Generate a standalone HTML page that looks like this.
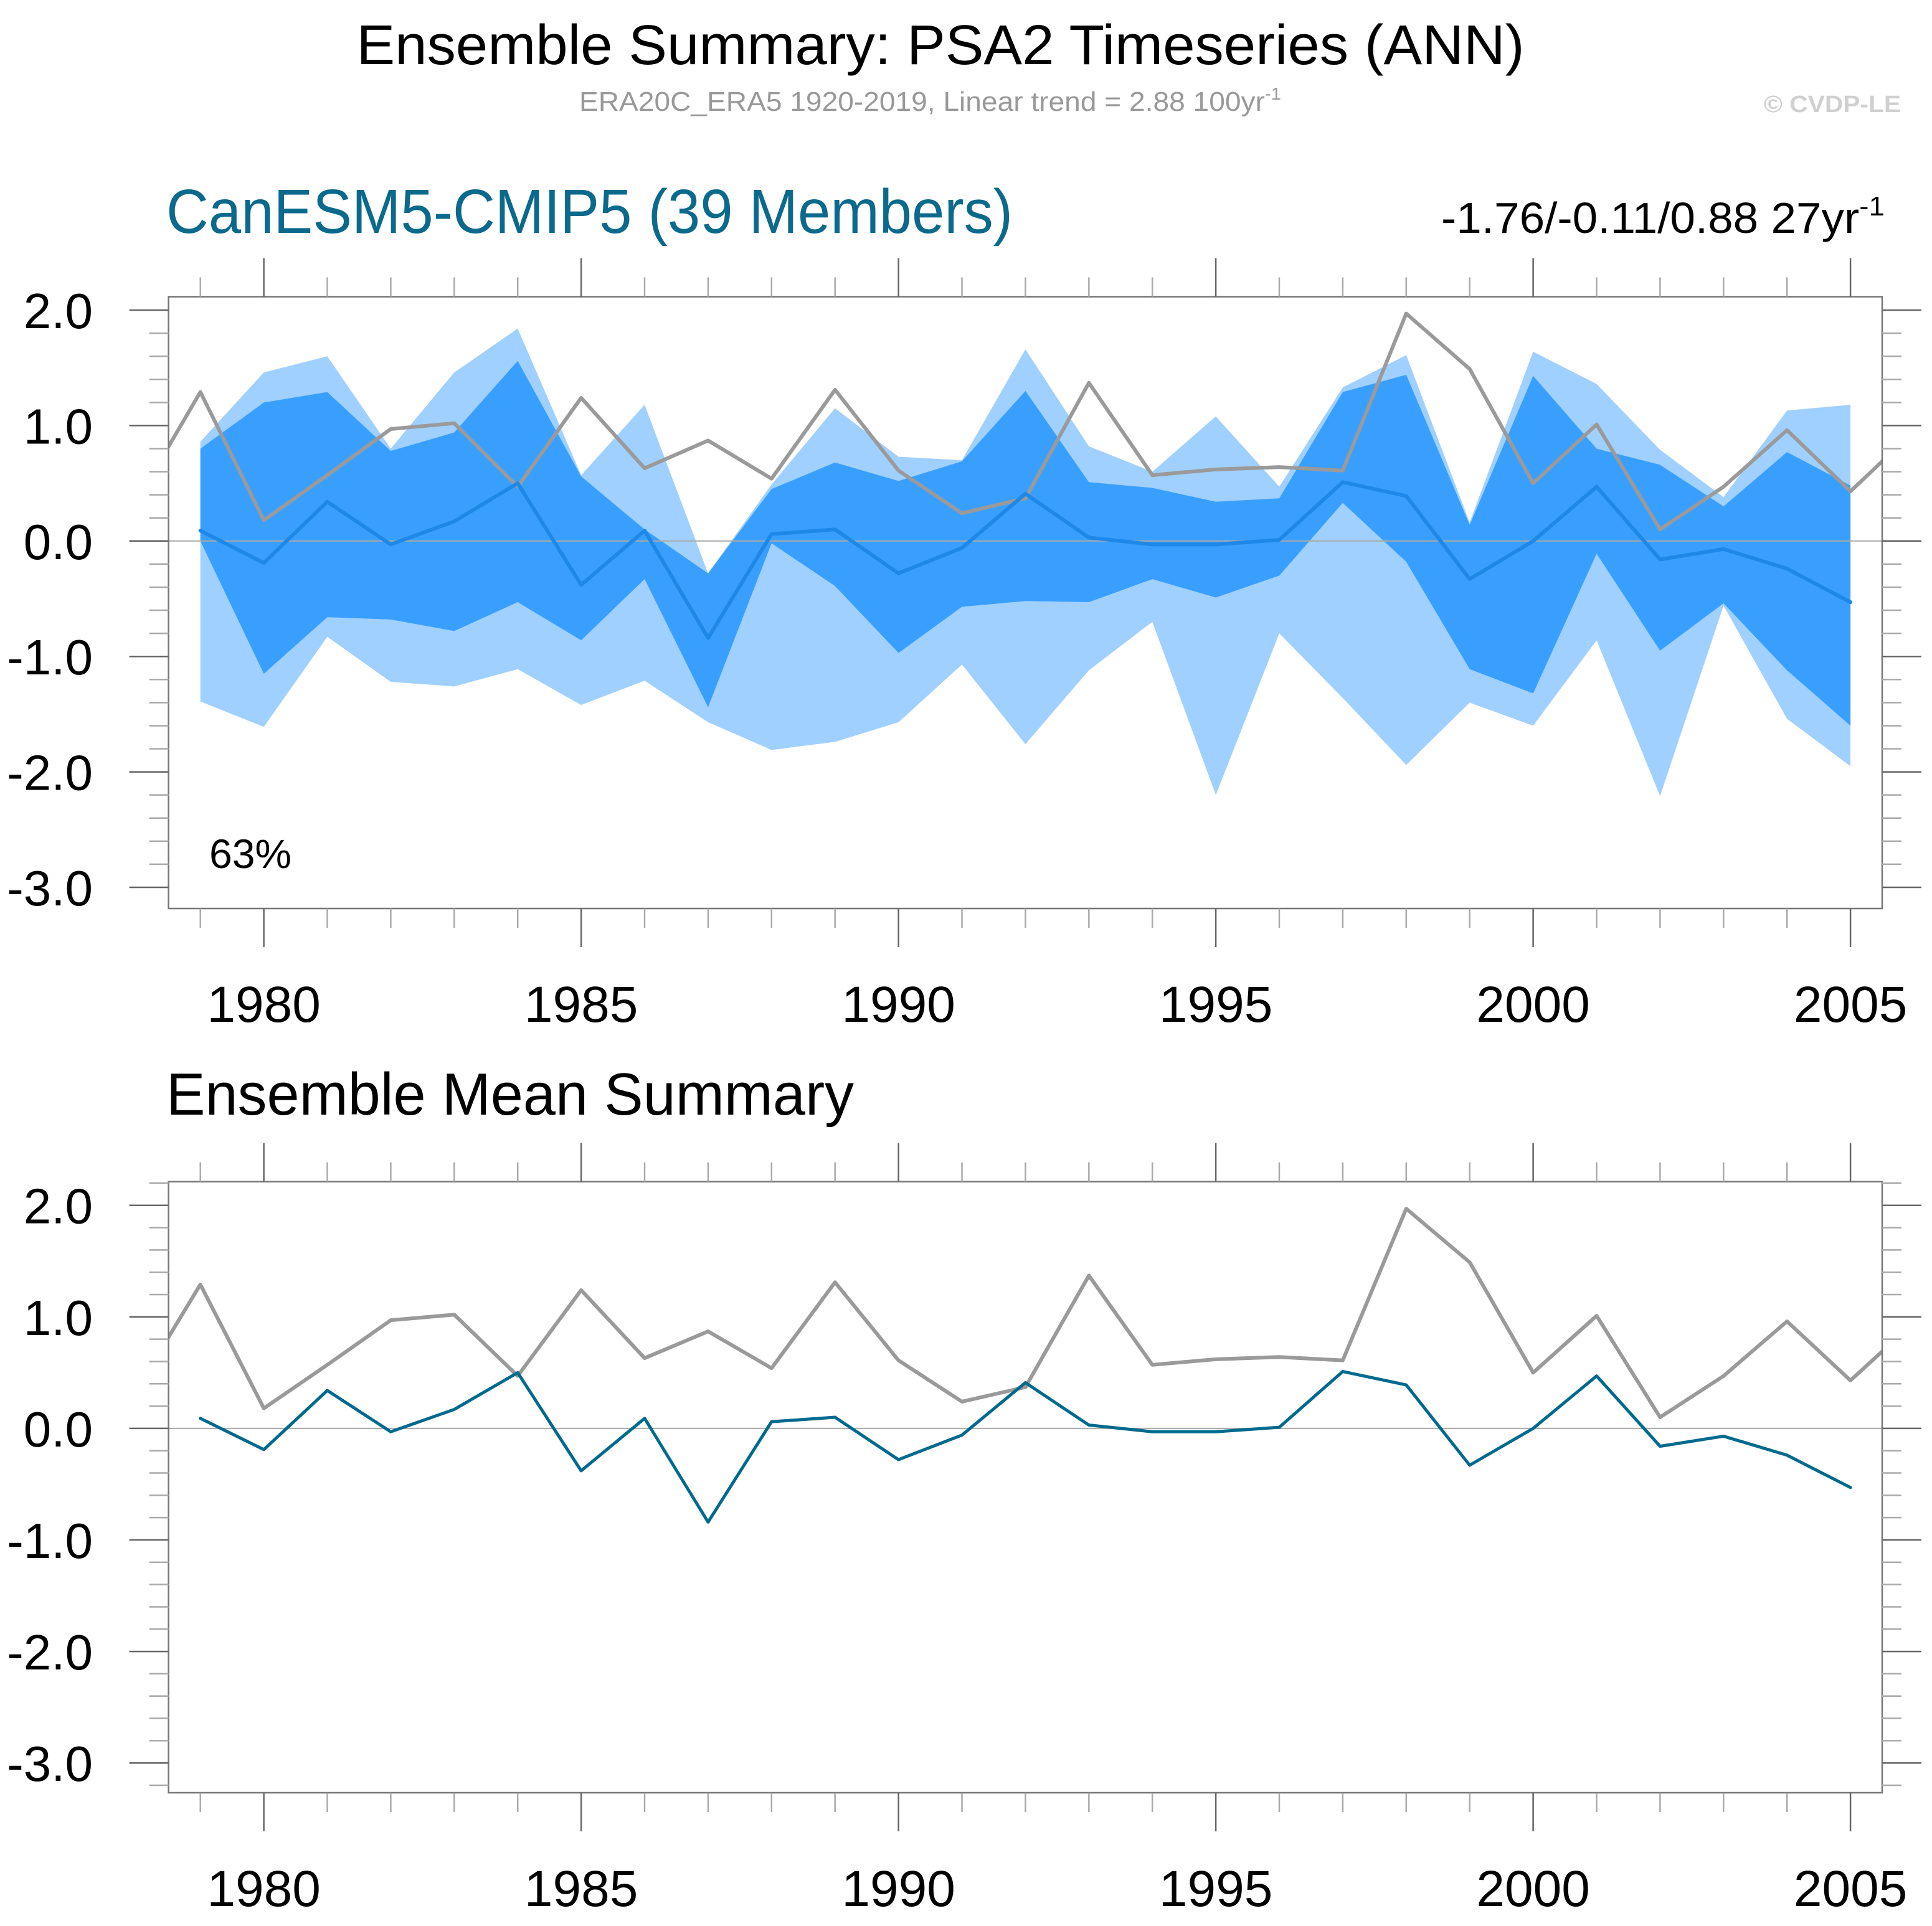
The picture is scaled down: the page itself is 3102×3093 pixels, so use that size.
<!DOCTYPE html>
<html><head><meta charset="utf-8"><style>
html,body{margin:0;padding:0;background:#fff;}
svg{display:block;font-family:"Liberation Sans",Arial,sans-serif;}
</style></head><body>
<svg id="chart" width="3102" height="3093" viewBox="0 0 3102 3093" xmlns="http://www.w3.org/2000/svg">
<rect width="3102" height="3093" fill="#fff"/>
<text x="1510" y="103" font-size="90" text-anchor="middle" textLength="1875" lengthAdjust="spacingAndGlyphs">Ensemble Summary: PSA2 Timeseries (ANN)</text>
<text x="930" y="178" font-size="44" fill="#999" textLength="1127" lengthAdjust="spacingAndGlyphs">ERA20C_ERA5 1920-2019, Linear trend = 2.88 100yr<tspan dy="-18" font-size="28">-1</tspan></text>
<text x="2832" y="180" font-size="38" font-weight="bold" fill="#d0d0d0" textLength="220" lengthAdjust="spacingAndGlyphs">© CVDP-LE</text>
<text x="267" y="374" font-size="100" fill="#0b6a8c" textLength="1359" lengthAdjust="spacingAndGlyphs">CanESM5-CMIP5 (39 Members)</text>
<text x="2314" y="374" font-size="70" textLength="712" lengthAdjust="spacingAndGlyphs">-1.76/-0.11/0.88 27yr<tspan dy="-28" font-size="44">-1</tspan></text>
<text x="267" y="1790" font-size="96" textLength="1104" lengthAdjust="spacingAndGlyphs">Ensemble Mean Summary</text>
<g id="top"></g>
<g id="bot"></g>
</svg>
<script>
const years=[1979,1980,1981,1982,1983,1984,1985,1986,1987,1988,1989,1990,1991,1992,1993,1994,1995,1996,1997,1998,1999,2000,2001,2002,2003,2004,2005];
const ensMean=[0.09,-0.19,0.34,-0.03,0.17,0.50,-0.38,0.09,-0.84,0.06,0.10,-0.28,-0.06,0.41,0.03,-0.03,-0.03,0.01,0.51,0.39,-0.33,0.0,0.47,-0.16,-0.07,-0.24,-0.53];
const envMax=[0.86,1.46,1.60,0.80,1.46,1.84,0.57,1.18,-0.28,0.49,1.15,0.73,0.70,1.66,0.82,0.60,1.08,0.47,1.33,1.61,0.16,1.64,1.36,0.79,0.38,1.13,1.18];
const envHi=[0.80,1.20,1.29,0.78,0.94,1.56,0.56,0.10,-0.28,0.45,0.68,0.52,0.69,1.30,0.51,0.46,0.34,0.37,1.29,1.44,0.14,1.43,0.80,0.66,0.30,0.77,0.48];
const envLo=[0.0,-1.15,-0.66,-0.68,-0.78,-0.53,-0.86,-0.33,-1.44,-0.02,-0.39,-0.97,-0.57,-0.52,-0.53,-0.33,-0.49,-0.30,0.33,-0.18,-1.11,-1.32,-0.11,-0.95,-0.54,-1.12,-1.60];
const envMin=[-1.39,-1.61,-0.83,-1.22,-1.26,-1.11,-1.42,-1.21,-1.57,-1.81,-1.74,-1.57,-1.07,-1.76,-1.12,-0.70,-2.20,-0.80,-1.36,-1.94,-1.40,-1.60,-0.86,-2.21,-0.56,-1.54,-1.95];
const obsYears=[1978,1979,1980,1981,1982,1983,1984,1985,1986,1987,1988,1989,1990,1991,1992,1993,1994,1995,1996,1997,1998,1999,2000,2001,2002,2003,2004,2005,2006];
const obs=[0.35,1.29,0.18,0.57,0.97,1.02,0.47,1.24,0.63,0.87,0.54,1.31,0.61,0.24,0.37,1.37,0.57,0.62,0.64,0.61,1.97,1.49,0.50,1.01,0.10,0.47,0.96,0.43,0.95];
const yTicks=[2,1,0,-1,-2,-3];
const yTickLabels=["2.0","1.0","0.0","-1.0","-2.0","-3.0"];
const xTicks=[1980,1985,1990,1995,2000,2005];
const pct="63%";

const NS="http://www.w3.org/2000/svg";
function mk(tag,attrs,parent){const e=document.createElementNS(NS,tag);for(const k in attrs)e.setAttribute(k,attrs[k]);parent.appendChild(e);return e;}
const X=yr=>423.6+(yr-1980)*101.9;
const L=270.6,R=3022;

function panel(g,top,bot,y0,k,prefix,withEnv){
  const Y=v=>y0-k*v;
  const cid=prefix+"-clip";
  const defs=mk('defs',{},g);
  const cp=mk('clipPath',{id:cid},defs);
  mk('rect',{x:L,y:top,width:R-L,height:bot-top},cp);
  const plot=mk('g',{'clip-path':'url(#'+cid+')'},g);
  
  
  if(withEnv){
    const band=(hi,lo,fill,name)=>{
      let d=years.map((y,i)=>(i?'L':'M')+X(y)+','+Y(hi[i])).join('');
      for(let i=years.length-1;i>=0;i--)d+='L'+X(years[i])+','+Y(lo[i]);
      const p=mk('path',{d:d+'Z',fill:fill},plot);
      
      
    };
    band(envMax,envMin,'#a0d0ff','envelope-min-max');
    band(envHi,envLo,'#399fff','envelope-inner');
  }
  const z=mk('line',{x1:L,x2:R,y1:Y(0),y2:Y(0),stroke:'#aaa','stroke-width':2},plot);
  
  
  const ol=mk('polyline',{points:obsYears.map((y,i)=>X(y)+','+Y(obs[i])).join(' '),fill:'none',stroke:'#9a9a9a','stroke-width':6,'stroke-linejoin':'round'},plot);
  
  
  const ml=mk('polyline',{points:years.map((y,i)=>X(y)+','+Y(ensMean[i])).join(' '),fill:'none',stroke:withEnv?'#1e88e8':'#006a8e','stroke-width':withEnv?6:5,'stroke-linejoin':'round','stroke-linecap':'round'},plot);
  
  
  const box=mk('rect',{x:L,y:top,width:R-L,height:bot-top,fill:'none',stroke:'#777','stroke-width':2.5},g);
  
  
  // y ticks
  for(let v=-3.4;v<=2.41;v+=0.2){
    const vv=Math.round(v*10)/10;const y=Y(vv);
    if(y<top-1||y>bot+1)continue;
    const major=Math.abs(vv-Math.round(vv))<1e-6;
    const len=major?63:31;
    mk('line',{x1:L-len,x2:L,y1:y,y2:y,stroke:major?'#666':'#aaa','stroke-width':2.5},g);
    mk('line',{x1:R,x2:R+len,y1:y,y2:y,stroke:major?'#666':'#aaa','stroke-width':2.5},g);
  }
  yTicks.forEach((v,i)=>{
    const t=mk('text',{x:149,y:Y(v)+29,'font-size':80,'text-anchor':'end'},g);
    t.textContent=yTickLabels[i];
    
    
  });
  // x ticks
  for(let yr=1979;yr<=2005;yr++){
    const major=yr%5===0;const len=major?62:31;const x=X(yr);
    mk('line',{x1:x,x2:x,y1:top-len,y2:top,stroke:major?'#666':'#aaa','stroke-width':2.5},g);
    mk('line',{x1:x,x2:x,y1:bot,y2:bot+len,stroke:major?'#666':'#aaa','stroke-width':2.5},g);
  }
  xTicks.forEach(yr=>{
    const t=mk('text',{x:X(yr),y:bot+182,'font-size':82,'text-anchor':'middle'},g);
    t.textContent=String(yr);
    
    
  });
  if(withEnv){
    const t=mk('text',{x:336,y:1394,'font-size':66},g);
    t.textContent=pct;
    
    
  }
}
panel(document.getElementById('top'),476.5,1459,868.8,185.4,'top',true);
panel(document.getElementById('bot'),1897.6,2879,2293.9,179.1,'bottom',false);
</script>
</body></html>
